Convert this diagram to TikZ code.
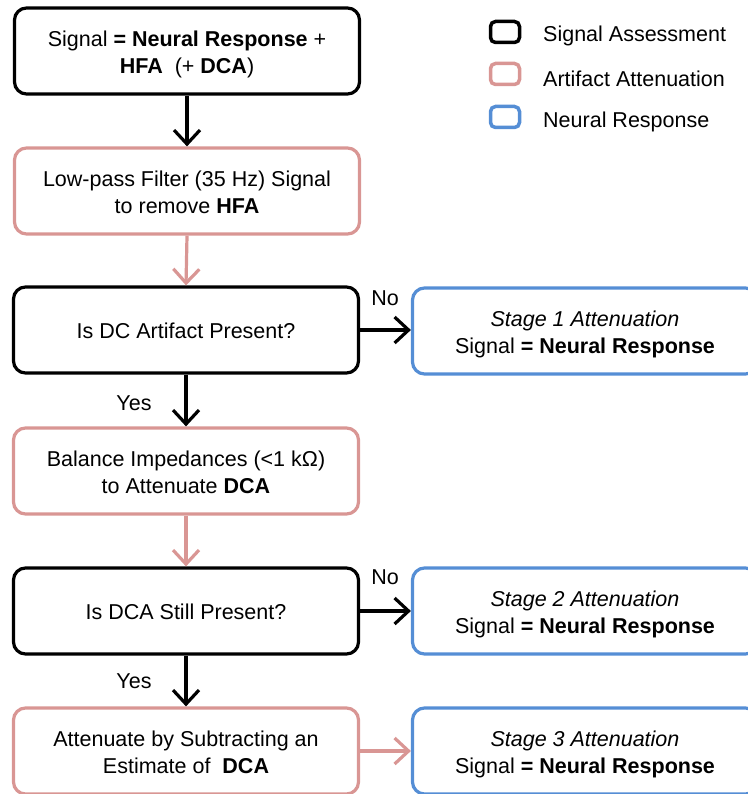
\documentclass[tikz,border=0pt]{standalone}
\usepackage{fontspec}
\setmainfont{Liberation Sans}
\usetikzlibrary{arrows.meta}
\definecolor{pinkc}{RGB}{217,150,148}
\definecolor{bluec}{RGB}{85,142,213}
\newcommand{\bxt}[1]{\raisebox{0pt}[\dimexpr\height+7pt\relax][\depth]{\begin{tabular}{@{}c@{}}#1\end{tabular}}}
\begin{document}
\begin{tikzpicture}[x=1pt,y=-1pt,
  box/.style={draw, rounded corners=12pt, line width=3.2pt, minimum width=345pt, minimum height=86pt, align=center, inner sep=0pt, font=\fontsize{21.5}{27}\selectfont},
  assess/.style={box, draw=black},
  atten/.style={box, draw=pinkc},
  neural/.style={box, draw=bluec},
  lbl/.style={font=\fontsize{21.5}{27}\selectfont, inner sep=0pt},
  legsq/.style={draw, rounded corners=5pt, line width=3.5pt, minimum width=29pt, minimum height=21pt, inner sep=0pt},
  arr/.style={line width=3.2pt, -{Straight Barb[length=14pt,width=26pt]}}
]
\useasboundingbox (0,0) rectangle (747,794);

% main column
\node[assess] (b1) at (187,51) {\bxt{Signal \textbf{= Neural Response} +\\ \textbf{HFA}\ \ (+ \textbf{DCA})}};
\node[atten] (b2) at (187,191) {\bxt{Low-pass Filter (35 Hz) Signal\\ to remove \textbf{HFA}}};
\node[assess] (b3) at (186,330) {\bxt{Is DC Artifact Present?}};
\node[atten] (b4) at (186,471) {\bxt{Balance Impedances (<1 kΩ)\\ to Attenuate \textbf{DCA}}};
\node[assess] (b5) at (186,611) {\bxt{Is DCA Still Present?}};
\node[atten] (b6) at (186,751) {\bxt{Attenuate by Subtracting an\\ Estimate of\ \ \textbf{DCA}}};

% right column
\node[neural] (n1) at (585,331) {\bxt{\textit{Stage 1 Attenuation}\\ Signal \textbf{= Neural Response}}};
\node[neural] (n2) at (585,611) {\bxt{\textit{Stage 2 Attenuation}\\ Signal \textbf{= Neural Response}}};
\node[neural] (n3) at (585,751) {\bxt{\textit{Stage 3 Attenuation}\\ Signal \textbf{= Neural Response}}};

% connectors
\draw[arr, black] (b1.south) -- (b2.north);
\draw[arr, pinkc] (b2.south) -- (b3.north);
\draw[arr, black] (b3.south) -- (b4.north);
\draw[arr, pinkc] (b4.south) -- (b5.north);
\draw[arr, black] (b5.south) -- (b6.north);
\draw[arr, black] (b3.east) -- (n1.west |- b3.east);
\draw[arr, black] (b5.east) -- (n2.west |- b5.east);
\draw[arr, pinkc] (b6.east) -- (n3.west |- b6.east);

% branch labels
\node[lbl] (no1) at (385,298) {No};
\node[lbl] (no2) at (385,577) {No};
\node[lbl] (yes1) at (134,403) {Yes};
\node[lbl] (yes2) at (134,681) {Yes};

% legend
\node[legsq, draw=black] (lg1) at (505,32) {};
\node[legsq, draw=pinkc] (lg2) at (505,74) {};
\node[legsq, draw=bluec] (lg3) at (505,117) {};
\node[lbl, anchor=west] (lt1) at (543,36) {Signal Assessment};
\node[lbl, anchor=west] (lt2) at (543,79) {Artifact Attenuation};
\node[lbl, anchor=west] (lt3) at (543,122) {Neural Response};
\end{tikzpicture}
\end{document}
